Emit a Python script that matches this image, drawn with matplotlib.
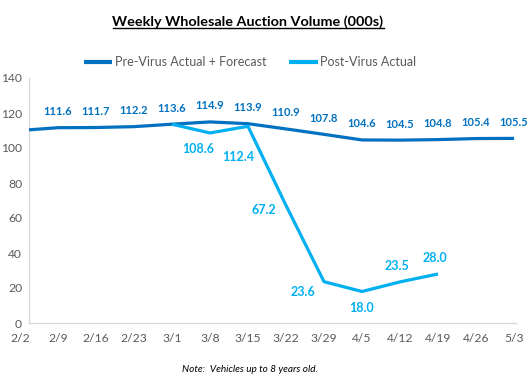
import numpy as np
import matplotlib
matplotlib.use("Agg")
import matplotlib.pyplot as plt
from matplotlib.lines import Line2D

plt.rcParams['font.family'] = ['Lato', 'DejaVu Sans']

weeks = ["2/2", "2/9", "2/16", "2/23", "3/1", "3/8", "3/15", "3/22",
         "3/29", "4/5", "4/12", "4/19", "4/26", "5/3"]
pre_virus = [110.0, 111.6, 111.7, 112.2, 113.6, 114.9, 113.9, 110.9,
             107.8, 104.6, 104.5, 104.8, 105.4, 105.5]
post_virus = [np.nan, np.nan, np.nan, np.nan, 113.6, 108.6, 112.4, 67.2,
              23.6, 18.0, 23.5, 28.0, np.nan, np.nan]

# label offsets (pixels) for the post-virus labels
post_offsets = {5: (-12, -16), 6: (-10, -31), 7: (-22, -5), 8: (-21, -10),
                9: (0, -17), 10: (-3, 16), 11: (-3, 16)}

DARK = "#0070C0"
LIGHT = "#00B0F0"
GRAY = "#595959"

fig = plt.figure(figsize=(5.29, 3.85), dpi=100)
ax = fig.add_axes([29/529, 62/385, (516-29)/529, (323-78)/385])

x = np.arange(len(weeks))
l1, = ax.plot(x, pre_virus, color=DARK, lw=2.3, solid_capstyle='butt', zorder=3)
l2, = ax.plot(x, post_virus, color=LIGHT, lw=2.3, solid_capstyle='butt', zorder=4)

ax.set_xlim(0.24, 13.05)
ax.set_ylim(0, 140)
ax.set_yticks(range(0, 141, 20))
ax.set_xticks(x[1:])
ax.set_xticklabels(weeks[1:])
ax.annotate(weeks[0], (0, 0), xycoords=('data', 'axes fraction'), xytext=(0, -7.5),
            textcoords='offset points', ha='center', va='top',
            fontsize=8.7, color=GRAY, annotation_clip=False)
ax.tick_params(axis='both', length=0, labelsize=8.7, labelcolor=GRAY)
ax.tick_params(axis='x', pad=7.5)
ax.tick_params(axis='y', pad=5)
for s in ['top', 'right']:
    ax.spines[s].set_visible(False)
for s in ['left', 'bottom']:
    ax.spines[s].set_color("#D9D9D9")
    ax.spines[s].set_linewidth(1.0)

for i, v in enumerate(pre_virus):
    if i == 0:
        continue
    ax.annotate(f"{v:.1f}", (x[i], v), xytext=(0, 16), textcoords='offset pixels',
                ha='center', va='center', fontsize=8, fontweight='bold', color=DARK,
                zorder=6)
for i, v in enumerate(post_virus):
    if np.isnan(v) or i not in post_offsets:
        continue
    ax.annotate(f"{v:.1f}", (x[i], v), xytext=post_offsets[i], textcoords='offset pixels',
                ha='center', va='center', fontsize=9, fontweight='bold', color=LIGHT,
                zorder=6)

fig.legend([l1, l2], ["Pre-Virus Actual + Forecast", "Post-Virus Actual"],
           loc='center', bbox_to_anchor=(250/529, 1-62/385), ncol=2, frameon=False,
           fontsize=9, labelcolor=GRAY, handlelength=2.3, handletextpad=0.2,
           columnspacing=1.8)
for h in fig.legends[0].legend_handles:
    h.set_linewidth(3)

title = fig.text(248/529, 1-22/385, "Weekly Wholesale Auction Volume (000s)",
                 ha='center', va='center', fontsize=10.4, fontweight='bold', color='black')
fig.text(250/529, 1-370/385, "Note:  Vehicles up to 8 years old.", ha='center', va='center',
         fontsize=7.2, fontstyle='italic', color='black')

fig.canvas.draw()
bb = title.get_window_extent().transformed(fig.transFigure.inverted())
fig.add_artist(Line2D([bb.x0, bb.x1], [bb.y0 + 0.002, bb.y0 + 0.002],
                      transform=fig.transFigure, color='black', lw=1.0))

fig.savefig("out.png", dpi=100)
